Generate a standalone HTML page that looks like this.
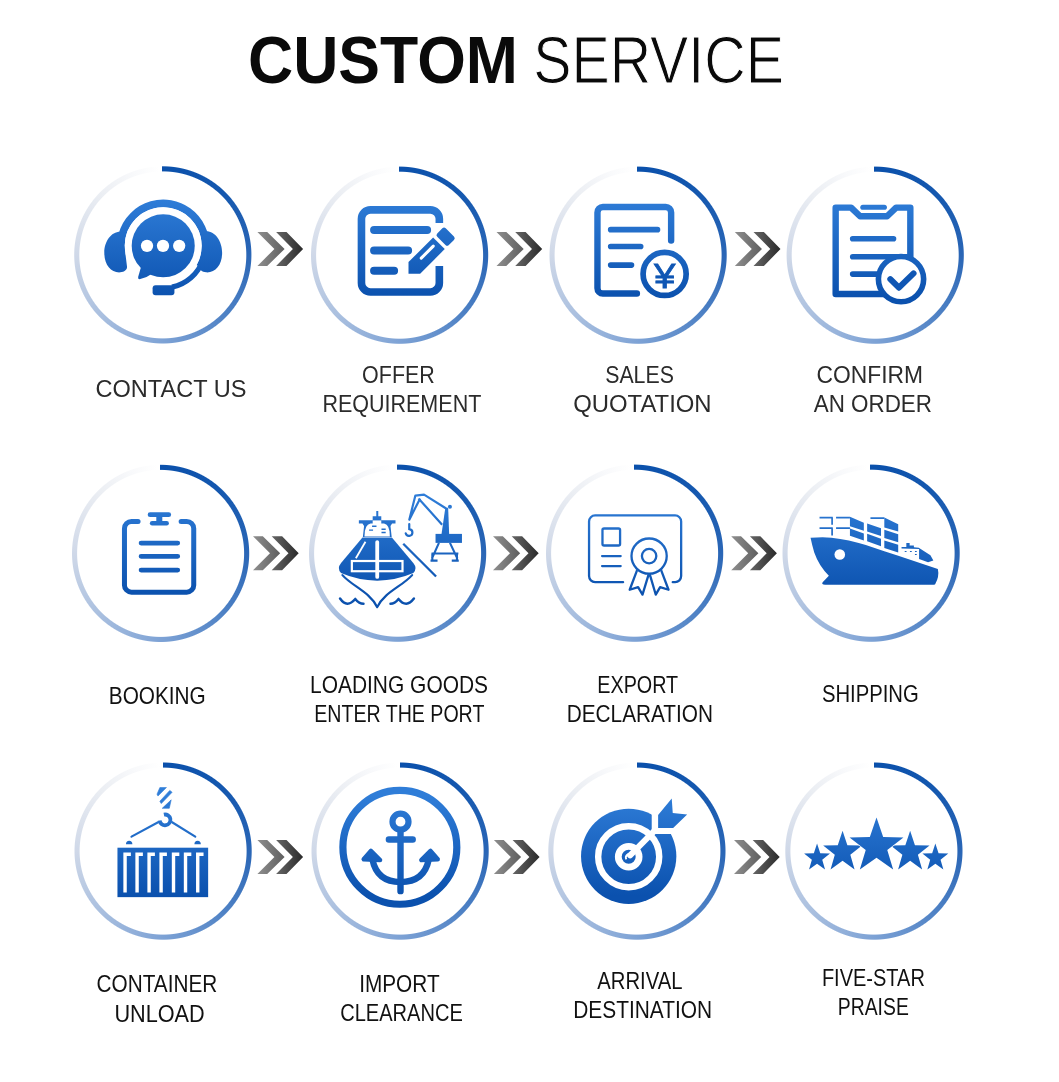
<!DOCTYPE html>
<html lang="en">
<head>
<meta charset="utf-8">
<title>Custom Service</title>
<style>
html,body{margin:0;padding:0;background:#fff;}
body{width:1059px;height:1082px;position:relative;overflow:hidden;font-family:"Liberation Sans",sans-serif;}
.ring{position:absolute;width:184px;height:184px;}
svg.art{position:absolute;left:0;top:0;will-change:transform;opacity:.9999;}
svg text{font-family:"Liberation Sans",sans-serif;}
.la{font-size:23.7px;fill:#2b2b2b;}
.lb{font-size:23.4px;fill:#111;}
</style>
</head>
<body>
<div class="ring" style="left:71px;top:163px;background:conic-gradient(from -0.6deg at 91.8px 91.9px,#0a50ab 0deg,#1558af 45deg,#2a66b6 90deg,#4f82c5 135deg,#7da2d5 180deg,#a9bfdf 225deg,#cfd8e8 270deg,#ebeef3 315deg,#f8f9fb 340deg,#fff 358deg);-webkit-mask:radial-gradient(circle at 91.8px 91.9px,transparent 83px,#000 84px,#000 88.1px,transparent 89.1px);mask:radial-gradient(circle at 91.8px 91.9px,transparent 83px,#000 84px,#000 88.1px,transparent 89.1px)"></div>
<div class="ring" style="left:308px;top:163px;background:conic-gradient(from -0.6deg at 91.6px 92.2px,#0a50ab 0deg,#1558af 45deg,#2a66b6 90deg,#4f82c5 135deg,#7da2d5 180deg,#a9bfdf 225deg,#cfd8e8 270deg,#ebeef3 315deg,#f8f9fb 340deg,#fff 358deg);-webkit-mask:radial-gradient(circle at 91.6px 92.2px,transparent 83px,#000 84px,#000 88.1px,transparent 89.1px);mask:radial-gradient(circle at 91.6px 92.2px,transparent 83px,#000 84px,#000 88.1px,transparent 89.1px)"></div>
<div class="ring" style="left:546px;top:163px;background:conic-gradient(from -0.6deg at 92.1px 92.2px,#0a50ab 0deg,#1558af 45deg,#2a66b6 90deg,#4f82c5 135deg,#7da2d5 180deg,#a9bfdf 225deg,#cfd8e8 270deg,#ebeef3 315deg,#f8f9fb 340deg,#fff 358deg);-webkit-mask:radial-gradient(circle at 92.1px 92.2px,transparent 83px,#000 84px,#000 88.1px,transparent 89.1px);mask:radial-gradient(circle at 92.1px 92.2px,transparent 83px,#000 84px,#000 88.1px,transparent 89.1px)"></div>
<div class="ring" style="left:783px;top:163px;background:conic-gradient(from -0.6deg at 92.2px 92.2px,#0a50ab 0deg,#1558af 45deg,#2a66b6 90deg,#4f82c5 135deg,#7da2d5 180deg,#a9bfdf 225deg,#cfd8e8 270deg,#ebeef3 315deg,#f8f9fb 340deg,#fff 358deg);-webkit-mask:radial-gradient(circle at 92.2px 92.2px,transparent 83px,#000 84px,#000 88.1px,transparent 89.1px);mask:radial-gradient(circle at 92.2px 92.2px,transparent 83px,#000 84px,#000 88.1px,transparent 89.1px)"></div>
<div class="ring" style="left:69px;top:461px;background:conic-gradient(from -0.6deg at 91.6px 92.4px,#0a50ab 0deg,#1558af 45deg,#2a66b6 90deg,#4f82c5 135deg,#7da2d5 180deg,#a9bfdf 225deg,#cfd8e8 270deg,#ebeef3 315deg,#f8f9fb 340deg,#fff 358deg);-webkit-mask:radial-gradient(circle at 91.6px 92.4px,transparent 83px,#000 84px,#000 88.1px,transparent 89.1px);mask:radial-gradient(circle at 91.6px 92.4px,transparent 83px,#000 84px,#000 88.1px,transparent 89.1px)"></div>
<div class="ring" style="left:306px;top:461px;background:conic-gradient(from -0.6deg at 91.6px 92.2px,#0a50ab 0deg,#1558af 45deg,#2a66b6 90deg,#4f82c5 135deg,#7da2d5 180deg,#a9bfdf 225deg,#cfd8e8 270deg,#ebeef3 315deg,#f8f9fb 340deg,#fff 358deg);-webkit-mask:radial-gradient(circle at 91.6px 92.2px,transparent 83px,#000 84px,#000 88.1px,transparent 89.1px);mask:radial-gradient(circle at 91.6px 92.2px,transparent 83px,#000 84px,#000 88.1px,transparent 89.1px)"></div>
<div class="ring" style="left:543px;top:461px;background:conic-gradient(from -0.6deg at 91.6px 92.2px,#0a50ab 0deg,#1558af 45deg,#2a66b6 90deg,#4f82c5 135deg,#7da2d5 180deg,#a9bfdf 225deg,#cfd8e8 270deg,#ebeef3 315deg,#f8f9fb 340deg,#fff 358deg);-webkit-mask:radial-gradient(circle at 91.6px 92.2px,transparent 83px,#000 84px,#000 88.1px,transparent 89.1px);mask:radial-gradient(circle at 91.6px 92.2px,transparent 83px,#000 84px,#000 88.1px,transparent 89.1px)"></div>
<div class="ring" style="left:779px;top:461px;background:conic-gradient(from -0.6deg at 92.1px 92.2px,#0a50ab 0deg,#1558af 45deg,#2a66b6 90deg,#4f82c5 135deg,#7da2d5 180deg,#a9bfdf 225deg,#cfd8e8 270deg,#ebeef3 315deg,#f8f9fb 340deg,#fff 358deg);-webkit-mask:radial-gradient(circle at 92.1px 92.2px,transparent 83px,#000 84px,#000 88.1px,transparent 89.1px);mask:radial-gradient(circle at 92.1px 92.2px,transparent 83px,#000 84px,#000 88.1px,transparent 89.1px)"></div>
<div class="ring" style="left:71px;top:759px;background:conic-gradient(from 0deg at 92.1px 92.1px,#0a50ab 0deg,#1558af 45deg,#2a66b6 90deg,#4f82c5 135deg,#7da2d5 180deg,#a9bfdf 225deg,#cfd8e8 270deg,#ebeef3 315deg,#f8f9fb 340deg,#fff 358deg);-webkit-mask:radial-gradient(circle at 92.1px 92.1px,transparent 83px,#000 84px,#000 88.1px,transparent 89.1px);mask:radial-gradient(circle at 92.1px 92.1px,transparent 83px,#000 84px,#000 88.1px,transparent 89.1px)"></div>
<div class="ring" style="left:308px;top:759px;background:conic-gradient(from 0deg at 92.1px 92.1px,#0a50ab 0deg,#1558af 45deg,#2a66b6 90deg,#4f82c5 135deg,#7da2d5 180deg,#a9bfdf 225deg,#cfd8e8 270deg,#ebeef3 315deg,#f8f9fb 340deg,#fff 358deg);-webkit-mask:radial-gradient(circle at 92.1px 92.1px,transparent 83px,#000 84px,#000 88.1px,transparent 89.1px);mask:radial-gradient(circle at 92.1px 92.1px,transparent 83px,#000 84px,#000 88.1px,transparent 89.1px)"></div>
<div class="ring" style="left:545px;top:759px;background:conic-gradient(from 0deg at 91.9px 92.1px,#0a50ab 0deg,#1558af 45deg,#2a66b6 90deg,#4f82c5 135deg,#7da2d5 180deg,#a9bfdf 225deg,#cfd8e8 270deg,#ebeef3 315deg,#f8f9fb 340deg,#fff 358deg);-webkit-mask:radial-gradient(circle at 91.9px 92.1px,transparent 83px,#000 84px,#000 88.1px,transparent 89.1px);mask:radial-gradient(circle at 91.9px 92.1px,transparent 83px,#000 84px,#000 88.1px,transparent 89.1px)"></div>
<div class="ring" style="left:782px;top:759px;background:conic-gradient(from 0deg at 91.9px 92.1px,#0a50ab 0deg,#1558af 45deg,#2a66b6 90deg,#4f82c5 135deg,#7da2d5 180deg,#a9bfdf 225deg,#cfd8e8 270deg,#ebeef3 315deg,#f8f9fb 340deg,#fff 358deg);-webkit-mask:radial-gradient(circle at 91.9px 92.1px,transparent 83px,#000 84px,#000 88.1px,transparent 89.1px);mask:radial-gradient(circle at 91.9px 92.1px,transparent 83px,#000 84px,#000 88.1px,transparent 89.1px)"></div>
<svg class="art" width="1059" height="1082" viewBox="0 0 1059 1082">
<defs>
<linearGradient id="bg" gradientUnits="userSpaceOnUse" x1="0" y1="245" x2="0" y2="745">
<stop offset="0" stop-color="#2f7dd8"/><stop offset="1" stop-color="#0b51ae"/></linearGradient>
<linearGradient id="g1" x1="0" y1="0" x2="1" y2="0"><stop offset="0" stop-color="#8e8e8e"/><stop offset="1" stop-color="#5f5f5f"/></linearGradient>
<linearGradient id="g2" x1="0" y1="0" x2="1" y2="0"><stop offset="0" stop-color="#666"/><stop offset="1" stop-color="#2a2a2a"/></linearGradient>
</defs>
<text x="248" y="83.2" font-size="66.5" font-weight="700" fill="#0a0a0a" textLength="269.9" lengthAdjust="spacingAndGlyphs">CUSTOM</text>
<text x="533.3" y="83.2" font-size="66.5" font-weight="400" fill="#0a0a0a" stroke="#fff" stroke-width="1.1" textLength="250.6" lengthAdjust="spacingAndGlyphs">SERVICE</text>
<g transform="translate(257.4,231.9)"><path fill="url(#g1)" d="M0,0H9.8L27.2,17.05L9.8,34.1H0L17,17.05Z"/><path fill="url(#g2)" d="M18.7,0H29.1L45.7,17.05L29.1,34.1H18.7L35.5,17.05Z"/></g>
<g transform="translate(496.5,231.9)"><path fill="url(#g1)" d="M0,0H9.8L27.2,17.05L9.8,34.1H0L17,17.05Z"/><path fill="url(#g2)" d="M18.7,0H29.1L45.7,17.05L29.1,34.1H18.7L35.5,17.05Z"/></g>
<g transform="translate(734.8,231.9)"><path fill="url(#g1)" d="M0,0H9.8L27.2,17.05L9.8,34.1H0L17,17.05Z"/><path fill="url(#g2)" d="M18.7,0H29.1L45.7,17.05L29.1,34.1H18.7L35.5,17.05Z"/></g>
<g transform="translate(253,536.2)"><path fill="url(#g1)" d="M0,0H9.8L27.2,17.05L9.8,34.1H0L17,17.05Z"/><path fill="url(#g2)" d="M18.7,0H29.1L45.7,17.05L29.1,34.1H18.7L35.5,17.05Z"/></g>
<g transform="translate(493,536.2)"><path fill="url(#g1)" d="M0,0H9.8L27.2,17.05L9.8,34.1H0L17,17.05Z"/><path fill="url(#g2)" d="M18.7,0H29.1L45.7,17.05L29.1,34.1H18.7L35.5,17.05Z"/></g>
<g transform="translate(731.2,536.2)"><path fill="url(#g1)" d="M0,0H9.8L27.2,17.05L9.8,34.1H0L17,17.05Z"/><path fill="url(#g2)" d="M18.7,0H29.1L45.7,17.05L29.1,34.1H18.7L35.5,17.05Z"/></g>
<g transform="translate(257.4,840)"><path fill="url(#g1)" d="M0,0H9.8L27.2,17.05L9.8,34.1H0L17,17.05Z"/><path fill="url(#g2)" d="M18.7,0H29.1L45.7,17.05L29.1,34.1H18.7L35.5,17.05Z"/></g>
<g transform="translate(493.9,840)"><path fill="url(#g1)" d="M0,0H9.8L27.2,17.05L9.8,34.1H0L17,17.05Z"/><path fill="url(#g2)" d="M18.7,0H29.1L45.7,17.05L29.1,34.1H18.7L35.5,17.05Z"/></g>
<g transform="translate(734,840)"><path fill="url(#g1)" d="M0,0H9.8L27.2,17.05L9.8,34.1H0L17,17.05Z"/><path fill="url(#g2)" d="M18.7,0H29.1L45.7,17.05L29.1,34.1H18.7L35.5,17.05Z"/></g>
<g transform="translate(60,150) scale(0.19830)"><path d="M310.2,520.3A213.5,213.5 0 1 1 705.4,589.9" fill="none" stroke="url(#bg)" stroke-width="39"/>
<path d="M304,412.6C257,412.6 223.4,462 223.4,518C223.4,580 257,620 304,617C325.5,615.7 339,604.5 338,589L325.5,487Z" fill="url(#bg)"/>
<path d="M737,410C784,410 817.6,462 817.6,518C817.6,580 784,620 737,617C715.5,615.7 702,604.5 703,589L715.5,487Z" fill="url(#bg)"/>
<path d="M720.7,556.1A213,213 0 0 1 564.8,691.5" fill="none" stroke="url(#bg)" stroke-width="26"/>
<circle cx="520.5" cy="483.2" r="176.5" fill="none" stroke="#fff" stroke-width="35"/>
<circle cx="520.5" cy="483.2" r="159" fill="url(#bg)"/>
<path d="M410,585L394,640Q392,654 405,651Q440,642 470,620Z" fill="url(#bg)"/>
<circle cx="438.8" cy="483.2" r="31" fill="#fff"/><circle cx="519.5" cy="483.2" r="31" fill="#fff"/><circle cx="601" cy="483.2" r="31" fill="#fff"/>
<rect x="467" y="682" width="110" height="50" rx="15" fill="url(#bg)"/></g>
<g transform="translate(294,148) scale(0.20019)"><path d="M726,375V354A45,45 0 0 0 681,309H382A45,45 0 0 0 337,354V674A45,45 0 0 0 382,719H681A45,45 0 0 0 726,674V590" fill="none" stroke="url(#bg)" stroke-width="38"/>
<path d="M400,410H665M400,512H570M400,613H500" fill="none" stroke="url(#bg)" stroke-width="40" stroke-linecap="round"/>
<polygon points="572.0,628.0 572.0,570.0 695.0,447.0 753.0,505.0 630.0,628.0" fill="url(#bg)"/><polygon points="724.0,435.0 749.5,409.5 790.5,450.5 765.0,476.0" fill="url(#bg)" stroke="url(#bg)" stroke-width="24" stroke-linejoin="round"/><path d="M635.6,550.2L695.7,490.1" stroke="#fff" stroke-width="15" stroke-linecap="round"/></g>
<g transform="translate(532,148) scale(0.20019)"><path d="M695,462V322A27,27 0 0 0 668,295H354A27,27 0 0 0 327,322V700A27,27 0 0 0 354,727H524" fill="none" stroke="url(#bg)" stroke-width="32" stroke-linecap="round"/>
<path d="M393,408H627M393,492H543M393,585H497" fill="none" stroke="url(#bg)" stroke-width="28" stroke-linecap="round"/>
<circle cx="662.5" cy="629" r="107.6" fill="#fff" stroke="url(#bg)" stroke-width="28.5"/>
<text x="609" y="698" font-size="174" font-weight="400" textLength="107" lengthAdjust="spacingAndGlyphs" fill="#0f56b4" stroke="#0f56b4" stroke-width="4">¥</text></g>
<g transform="translate(769,148) scale(0.20019)"><path d="M333,298H410L455,341H590L635,298H706V729H333Z" fill="none" stroke="url(#bg)" stroke-width="32" stroke-linejoin="round"/>
<path d="M469,296H576" stroke="url(#bg)" stroke-width="26" stroke-linecap="round"/>
<path d="M418,453H622M418,543H690M418,630H560" fill="none" stroke="url(#bg)" stroke-width="28" stroke-linecap="round"/>
<circle cx="659.5" cy="655" r="113" fill="#fff" stroke="url(#bg)" stroke-width="28"/>
<path d="M606,655L649,698L722,626" fill="none" stroke="#0f56b4" stroke-width="30" stroke-linecap="round" stroke-linejoin="round"/></g>
<g transform="translate(54,446) scale(0.20019)"><path d="M420,377H387A35,35 0 0 0 352,412V695A35,35 0 0 0 387,730H663A35,35 0 0 0 698,695V412A35,35 0 0 0 663,377H635" fill="none" stroke="url(#bg)" stroke-width="25" stroke-linecap="round"/>
<path d="M480,343H573" stroke="url(#bg)" stroke-width="24" stroke-linecap="round"/>
<path d="M490,386H563" stroke="url(#bg)" stroke-width="22" stroke-linecap="round"/>
<rect x="511" y="343" width="30" height="43" fill="url(#bg)"/>
<path d="M435,485H618M435,551H618M435,620H618" fill="none" stroke="url(#bg)" stroke-width="24" stroke-linecap="round"/></g>
<g transform="translate(292,446) scale(0.20019)"><path d="M352,457H499L606,585Q628,612 606,635Q520,672 425.7,673Q330,672 245,635Q223,612 245,585Z" fill="url(#bg)"/>
<path d="M252,645C300,700 390,730 425.7,805C461,730 552,700 600,645" fill="none" stroke="url(#bg)" stroke-width="11" stroke-linejoin="round" stroke-linecap="round"/>
<path d="M334,371H517V387H500L492,400L498,455H354L360,400L352,387H334Z" fill="url(#bg)"/>
<path d="M362,452Q362,392 392,387H460Q489,392 489,452Z" fill="#fff"/>
<path d="M403,372V351H421V325H431V351H446V372Z" fill="url(#bg)"/>
<path d="M403,372H446V390H403Z" fill="#fff"/>
<path d="M385,420H405M400,401H422M447,416H468M447,432H468" stroke="url(#bg)" stroke-width="7"/>
<path d="M425.7,480V654" stroke="#fff" stroke-width="19" stroke-linecap="round"/>
<rect x="299" y="574.5" width="253" height="51" fill="none" stroke="#fff" stroke-width="11"/>
<path d="M367,478L319,561" stroke="#fff" stroke-width="9"/>
<path d="M240,762Q275,812 316,764Q335,788 357,788M609,762Q571,812 532,764Q513,788 492,788" fill="none" stroke="url(#bg)" stroke-width="12.5" stroke-linecap="round" stroke-linejoin="round"/>
<path d="M555.7,488L719.7,652" stroke="url(#bg)" stroke-width="11.5"/>
<rect x="717" y="439" width="132" height="45" fill="url(#bg)"/>
<path d="M766,308H780L785,440H747Z" fill="url(#bg)"/>
<circle cx="789" cy="303" r="10" fill="url(#bg)"/>
<path d="M734,484L699,562M789,484L826,562M697,537H831M701,537V572M824,537V572" fill="none" stroke="url(#bg)" stroke-width="10.5"/>
<path d="M692,573H727M798,573H833" stroke="url(#bg)" stroke-width="11"/>
<path d="M770,312L659.6,243L616,248L586,368L640,262M632,262L750,393" fill="none" stroke="url(#bg)" stroke-width="11" stroke-linejoin="round"/>
<path d="M585.7,390V415A17,17 0 1 1 568,436" fill="none" stroke="url(#bg)" stroke-width="11" stroke-linecap="round"/></g>
<g transform="translate(529,446) scale(0.20019)"><path d="M470,680H330A30,30 0 0 1 300,650V377A30,30 0 0 1 330,347H730A30,30 0 0 1 760,377V650A30,30 0 0 1 730,680H718" fill="none" stroke="url(#bg)" stroke-width="11.5" stroke-linecap="round"/>
<rect x="367" y="412" width="88" height="85" rx="8" fill="none" stroke="url(#bg)" stroke-width="11.5"/>
<path d="M365,550H458M365,600H458" stroke="url(#bg)" stroke-width="11.5" stroke-linecap="round"/>
<path d="M540,620L503,718L545,705L567,742L598,640M660,620L697,718L655,705L633,742L603,640" fill="none" stroke="url(#bg)" stroke-width="11.5" stroke-linejoin="round"/>
<circle cx="600" cy="550" r="88" fill="#fff" stroke="url(#bg)" stroke-width="11.5"/>
<circle cx="600" cy="550" r="36" fill="none" stroke="url(#bg)" stroke-width="11.5"/></g>
<g transform="translate(765,446) scale(0.20019)"><path d="M227.5,458.5Q290,453 332,458Q420,468 503.6,495L596,525.5L662,547L863.5,615Q872,652 850,691Q848,693 845,693H300Q280,692 288,680L319,648Q270,600 246,532Q235,495 227.5,458.5Z" fill="url(#bg)"/>
<circle cx="373.5" cy="542.3" r="26.5" fill="#fff"/>
<path d="M272.4,357.4H338.5M272.4,410.3H338.5M335.2,357.4V393.8M335.2,410.3V446.6M355,357.4H424.3M355,410.3H424.3M526.7,360.7H596" fill="none" stroke="url(#bg)" stroke-width="8.5"/>
<path d="M424.3,353.4L493.7,383.9V423.5L424.3,400.4ZM424.3,412.2L493.7,436.7V471.7L424.3,447.9Z" fill="url(#bg)"/>
<path d="M510.2,387.2L579.5,410.3V449.9L510.2,426.8ZM510.2,438.7L579.5,463.1V500.7L510.2,476.3Z" fill="url(#bg)"/>
<path d="M596,356.7L665.4,390.5V426.8L596,407ZM596,418.9L665.4,441.3V480.9L596,459.8ZM596,471.7L665.4,492.8V532.4L596,509.3Z" fill="url(#bg)"/>
<path d="M682,504.5L706,505V485H722.5V496.5H743.7V506L768,508L826.3,546L841,572L814.5,581L769.7,565V514L682,512.5Z" fill="url(#bg)"/>
<path d="M698,527H707M724,527H733M749,527H758M749,542H758" stroke="url(#bg)" stroke-width="6"/></g>
<g transform="translate(57,746) scale(0.20019)"><rect x="302" y="508" width="453" height="247" fill="url(#bg)"/>
<path d="M340,732V541H369" fill="none" stroke="#fff" stroke-width="17"/><path d="M400,732V541H429" fill="none" stroke="#fff" stroke-width="17"/><path d="M460,732V541H489" fill="none" stroke="#fff" stroke-width="17"/><path d="M520,732V541H549" fill="none" stroke="#fff" stroke-width="17"/><path d="M582,732V541H611" fill="none" stroke="#fff" stroke-width="17"/><path d="M642,732V541H671" fill="none" stroke="#fff" stroke-width="17"/><path d="M703,732V541H732" fill="none" stroke="#fff" stroke-width="17"/>
<path d="M505,381L372.2,452.8M575,381L690.6,452.8" fill="none" stroke="url(#bg)" stroke-width="11" stroke-linecap="round"/>
<path d="M344.5,491A16,18 0 0 1 376.5,491ZM686.4,491A16,18 0 0 1 718.4,491Z" fill="url(#bg)"/>
<path d="M534,342.7A27,27 0 1 1 512.8,372.6" fill="none" stroke="url(#bg)" stroke-width="19"/>
<path d="M513.8,207.5H546.8L504.3,250L499.6,240.6ZM563.3,221.7L575.1,231.1L520.8,287.7L513.8,275.9ZM570.4,268.9L560.9,311.3H525.6Z" fill="url(#bg)" stroke="url(#bg)" stroke-width="3" stroke-linejoin="round"/></g>
<g transform="translate(294,746) scale(0.20019)"><circle cx="528.8" cy="506" r="284.5" fill="none" stroke="url(#bg)" stroke-width="36"/>
<circle cx="532" cy="378" r="40" fill="none" stroke="url(#bg)" stroke-width="31"/>
<path d="M532,420V725M474,467H593" fill="none" stroke="url(#bg)" stroke-width="32" stroke-linecap="round"/>
<path d="M392,568Q415,680 532,680Q650,680 673,568" fill="none" stroke="url(#bg)" stroke-width="32"/>
<path d="M384,524L348,566L430,570Z M682,524L636,570L718,566Z" fill="url(#bg)" stroke="url(#bg)" stroke-width="22" stroke-linejoin="round"/></g>
<g transform="translate(530,746) scale(0.20019)"><circle cx="493" cy="551" r="238" fill="url(#bg)"/>
<circle cx="493" cy="553" r="152.5" fill="none" stroke="#fff" stroke-width="32"/>
<circle cx="493" cy="553" r="52" fill="none" stroke="#fff" stroke-width="34"/>
<path d="M500,546L625,420" stroke="#fff" stroke-width="30" stroke-linecap="round"/>
<path d="M608,250H800V440H608Z" fill="#fff"/>
<path d="M640,345L708,262L713,335L785,342L715,410H640Z" fill="url(#bg)"/>
<path d="M481,566A18,18 0 0 1 506,542" fill="none" stroke="#fff" stroke-width="9"/></g>
<g transform="translate(767,746) scale(0.20019)"><polygon points="250.0,487.1 266.0,535.9 314.7,536.9 275.9,568.1 290.0,617.5 250.0,588.0 210.0,617.5 224.1,568.1 185.3,536.9 234.0,535.9" fill="url(#bg)"/><polygon points="841.0,487.1 857.0,535.9 905.7,536.9 866.9,568.1 881.0,617.5 841.0,588.0 801.0,617.5 815.1,568.1 776.3,536.9 825.0,535.9" fill="url(#bg)"/><polygon points="377.5,422.8 401.5,495.6 474.5,497.2 416.3,543.7 437.5,617.5 377.5,573.5 317.5,617.5 338.7,543.7 280.5,497.2 353.5,495.6" fill="url(#bg)"/><polygon points="715.0,422.8 739.0,495.6 812.0,497.2 753.8,543.7 775.0,617.5 715.0,573.5 655.0,617.5 676.2,543.7 618.0,497.2 691.0,495.6" fill="url(#bg)"/><polygon points="547.0,357.7 580.3,454.8 681.6,456.9 600.8,519.1 630.2,617.5 547.0,558.8 463.8,617.5 493.2,519.1 412.4,456.9 513.7,454.8" fill="url(#bg)" stroke="#fff" stroke-width="7" paint-order="stroke"/></g>
<text class="la" x="95.5" y="397.3" textLength="150.9" lengthAdjust="spacingAndGlyphs">CONTACT US</text>
<text class="la" x="362.1" y="382.6" textLength="72.7" lengthAdjust="spacingAndGlyphs">OFFER</text>
<text class="la" x="322.4" y="411.8" textLength="158.9" lengthAdjust="spacingAndGlyphs">REQUIREMENT</text>
<text class="la" x="605.2" y="382.6" textLength="68.7" lengthAdjust="spacingAndGlyphs">SALES</text>
<text class="la" x="573.2" y="411.8" textLength="138.4" lengthAdjust="spacingAndGlyphs">QUOTATION</text>
<text class="la" x="816.5" y="382.6" textLength="106.5" lengthAdjust="spacingAndGlyphs">CONFIRM</text>
<text class="la" x="813.7" y="411.8" textLength="118.3" lengthAdjust="spacingAndGlyphs">AN ORDER</text>
<text class="lb" x="108.8" y="703.9" textLength="97" lengthAdjust="spacingAndGlyphs">BOOKING</text>
<text class="lb" x="310" y="693.1" textLength="178.1" lengthAdjust="spacingAndGlyphs">LOADING GOODS</text>
<text class="lb" x="314.2" y="722.3" textLength="170.2" lengthAdjust="spacingAndGlyphs">ENTER THE PORT</text>
<text class="lb" x="597.3" y="693" textLength="80.9" lengthAdjust="spacingAndGlyphs">EXPORT</text>
<text class="lb" x="566.7" y="722" textLength="146.3" lengthAdjust="spacingAndGlyphs">DECLARATION</text>
<text class="lb" x="821.9" y="701.6" textLength="96.8" lengthAdjust="spacingAndGlyphs">SHIPPING</text>
<text class="lb" x="96.6" y="992.4" textLength="120.6" lengthAdjust="spacingAndGlyphs">CONTAINER</text>
<text class="lb" x="114.4" y="1021.6" textLength="90.3" lengthAdjust="spacingAndGlyphs">UNLOAD</text>
<text class="lb" x="359.2" y="991.8" textLength="80.4" lengthAdjust="spacingAndGlyphs">IMPORT</text>
<text class="lb" x="340.2" y="1020.7" textLength="122.6" lengthAdjust="spacingAndGlyphs">CLEARANCE</text>
<text class="lb" x="597.3" y="989" textLength="85.1" lengthAdjust="spacingAndGlyphs">ARRIVAL</text>
<text class="lb" x="573.2" y="1017.9" textLength="139" lengthAdjust="spacingAndGlyphs">DESTINATION</text>
<text class="lb" x="821.9" y="986.2" textLength="103" lengthAdjust="spacingAndGlyphs">FIVE-STAR</text>
<text class="lb" x="837.8" y="1015.3" textLength="71" lengthAdjust="spacingAndGlyphs">PRAISE</text>
</svg>
</body>
</html>
